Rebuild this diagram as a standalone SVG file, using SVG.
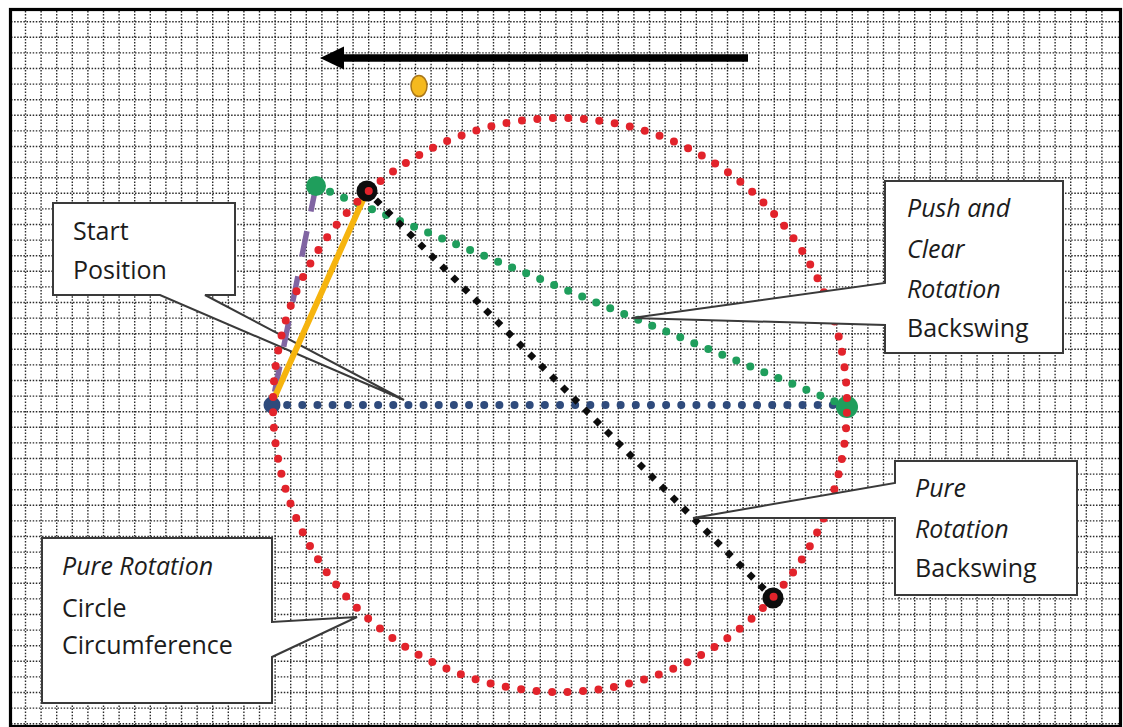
<svg xmlns="http://www.w3.org/2000/svg" width="1123" height="727" viewBox="0 0 1123 727">
  <style>
    .grid { stroke: #2a2a2a; stroke-width: 1.4; stroke-dasharray: 1.5 1.6; fill: none; }
    .callout { fill: #ffffff; stroke: #3a3a3a; stroke-width: 2; stroke-linejoin: miter; }
    .label { font-family: "Open Sans", "Liberation Sans", sans-serif; font-size: 25px; fill: #1c1c1c; }
    .it { font-style: italic; }
    .dots { fill: none; stroke-linecap: round; }
  </style>

  <!-- paper -->
  <rect x="0" y="0" width="1123" height="727" fill="#ffffff"/>

  <!-- dotted graph-paper grid, 15.6 px pitch -->
  <g id="grid">
    <path class="grid" d="M25.5 11V726M41.1 11V726M56.7 11V726M72.3 11V726M87.9 11V726M103.5 11V726M119.1 11V726M134.7 11V726M150.3 11V726M165.9 11V726M181.5 11V726M197.1 11V726M212.7 11V726M228.3 11V726M243.9 11V726M259.5 11V726M275.1 11V726M290.7 11V726M306.3 11V726M321.9 11V726M337.5 11V726M353.1 11V726M368.7 11V726M384.3 11V726M399.9 11V726M415.5 11V726M431.1 11V726M446.7 11V726M462.3 11V726M477.9 11V726M493.5 11V726M509.1 11V726M524.7 11V726M540.3 11V726M555.9 11V726M571.5 11V726M587.1 11V726M602.7 11V726M618.3 11V726M633.9 11V726M649.5 11V726M665.1 11V726M680.7 11V726M696.3 11V726M711.9 11V726M727.5 11V726M743.1 11V726M758.7 11V726M774.3 11V726M789.9 11V726M805.5 11V726M821.1 11V726M836.7 11V726M852.3 11V726M867.9 11V726M883.5 11V726M899.1 11V726M914.7 11V726M930.3 11V726M945.9 11V726M961.5 11V726M977.1 11V726M992.7 11V726M1008.3 11V726M1023.9 11V726M1039.5 11V726M1055.1 11V726M1070.7 11V726M1086.3 11V726M1101.9 11V726"/>
    <path class="grid" d="M11 21.7H1119M11 37.3H1119M11 52.9H1119M11 68.5H1119M11 84.1H1119M11 99.7H1119M11 115.3H1119M11 130.9H1119M11 146.5H1119M11 162.1H1119M11 177.7H1119M11 193.3H1119M11 208.9H1119M11 224.5H1119M11 240.1H1119M11 255.7H1119M11 271.3H1119M11 286.9H1119M11 302.5H1119M11 318.1H1119M11 333.7H1119M11 349.3H1119M11 364.9H1119M11 380.5H1119M11 396.1H1119M11 411.7H1119M11 427.3H1119M11 442.9H1119M11 458.5H1119M11 474.1H1119M11 489.7H1119M11 505.3H1119M11 520.9H1119M11 536.5H1119M11 552.1H1119M11 567.7H1119M11 583.3H1119M11 598.9H1119M11 614.5H1119M11 630.1H1119M11 645.7H1119M11 661.3H1119M11 676.9H1119M11 692.5H1119M11 708.1H1119M11 723.7H1119"/>
  </g>

  <!-- outer frame -->
  <rect id="frame" x="10.5" y="9.5" width="1110" height="717" fill="none" stroke="#000" stroke-width="3.2"/>

  <!-- direction arrow and ball -->
  <g id="direction-arrow">
    <line x1="748" y1="58" x2="338" y2="58" stroke="#000" stroke-width="7.5"/>
    <polygon points="320,58 344,46.5 344,69.5" fill="#000"/>
  </g>
  <ellipse id="ball" cx="419" cy="86" rx="8" ry="10.5" fill="#f5b91e" stroke="#a8761a" stroke-width="1.5"/>

  <!-- callout drawn beneath the swing lines -->
  <g id="callout-start">
    <path class="callout" d="M53 203H235V295H205L404 400L160 295H53Z"/>
    <text class="label" x="73" y="240">Start</text>
    <text class="label" x="73" y="279">Position</text>
  </g>

  <g id="connectors">
    <!-- purple dashed shaft to the green start point -->
    <line x1="316" y1="186" x2="272" y2="405" stroke="#8064a2" stroke-width="5.5" stroke-dasharray="26 20"/>
    <!-- start-position line across the circle -->
    <line class="dots" x1="272" y1="405" x2="848" y2="405" stroke="#2f4b7c" stroke-width="8" stroke-dasharray="0 15.158"/>
    <!-- push-and-clear backswing -->
    <line class="dots" x1="316" y1="186" x2="848" y2="407" stroke="#1f9e5c" stroke-width="8" stroke-dasharray="0 15.17"/>
    <!-- pure rotation backswing: squares turned along the diagonal read as diamonds -->
    <line x1="367" y1="191" x2="773" y2="598" stroke="#0d0d0d" stroke-width="6.5" stroke-linecap="square" stroke-dasharray="0.01 15.53"/>
    <!-- shaft to the black top point -->
    <line x1="272" y1="403" x2="367" y2="191" stroke="#f6b40e" stroke-width="6" stroke-linecap="round"/>
  </g>

  <g id="points">
    <circle id="pt-start" cx="272" cy="405" r="8.5" fill="#2f4b7c"/>
    <circle id="pt-green-top" cx="316" cy="186" r="10" fill="#1f9e5c"/>
    <circle id="pt-green-right" cx="847" cy="407" r="11" fill="#1f9e5c"/>
    <circle id="pt-black-top" cx="367" cy="191" r="10.5" fill="#0d0d0d"/>
    <circle id="pt-black-bottom" cx="773" cy="598" r="10.5" fill="#0d0d0d"/>
  </g>

  <!-- pure rotation circle -->
  <circle id="rotation-circle" class="dots" cx="560" cy="405" r="287" stroke="#e2232b" stroke-width="8" stroke-dasharray="0 15.546" stroke-dashoffset="7.77"/>

  <g id="callout-push">
    <path class="callout" d="M885 181H1063V353H885V325L632 318L885 283Z"/>
    <text class="label it" x="907" y="217">Push and</text>
    <text class="label it" x="907" y="258">Clear</text>
    <text class="label it" x="907" y="298">Rotation</text>
    <text class="label" x="907" y="337">Backswing</text>
  </g>

  <g id="callout-pure">
    <path class="callout" d="M895 461H1077V595H895V518L693 518L895 483Z"/>
    <text class="label it" x="915" y="497">Pure</text>
    <text class="label it" x="915" y="538">Rotation</text>
    <text class="label" x="915" y="577">Backswing</text>
  </g>

  <g id="callout-circle">
    <path class="callout" d="M42 538H272V622L357 617L272 657V703H42Z"/>
    <text class="label it" x="62" y="575">Pure Rotation</text>
    <text class="label" x="62" y="617">Circle</text>
    <text class="label" x="62" y="654">Circumference</text>
  </g>
</svg>
